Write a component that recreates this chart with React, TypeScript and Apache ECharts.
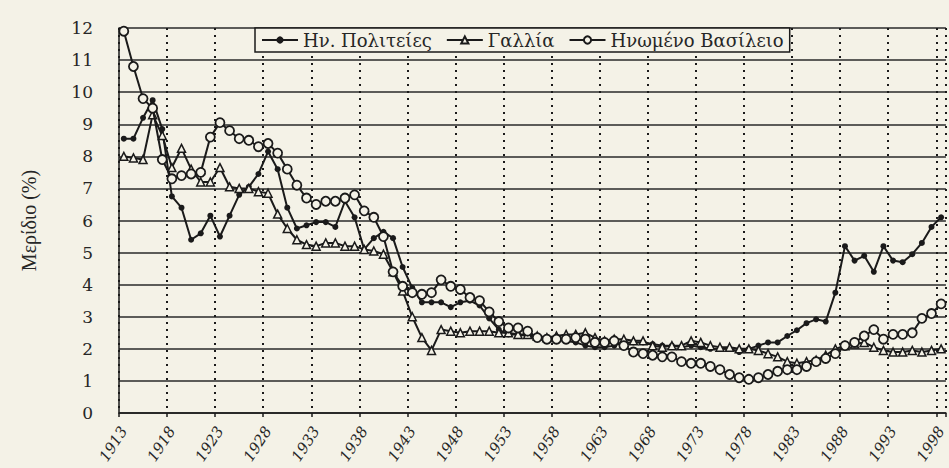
import React, { useEffect, useRef } from "react";
import * as echarts from "echarts";

// Categories: every year 1913..1998
const years: string[] = Array.from({ length: 86 }, (_, i) => String(1913 + i));

// Share (%) — United States (filled dots)
const usShare = [
  8.55, 8.55, 9.2, 9.75, 8.85, 6.75, 6.4, 5.4, 5.6, 6.15,
  5.5, 6.15, 6.8, 7.05, 7.45, 8.15, 7.6, 6.4, 5.75, 5.85,
  5.95, 5.95, 5.8, 6.6, 6.1, 5.1, 5.45, 5.65, 5.45, 4.55,
  3.9, 3.45, 3.45, 3.45, 3.3, 3.45, 3.5, 3.35, 2.95, 2.6,
  2.45, 2.45, 2.4, 2.35, 2.3, 2.3, 2.25, 2.2, 2.1, 2.05,
  2.05, 2.1, 2.2, 2.2, 2.2, 2.15, 2.1, 2.1, 2.05, 2.1,
  2.05, 2.0, 2.0, 2.0, 1.9, 2.0, 2.1, 2.2, 2.2, 2.4,
  2.58, 2.8, 2.92, 2.85, 3.75, 5.2, 4.75, 4.9, 4.4, 5.2,
  4.75, 4.7, 4.95, 5.3, 5.8, 6.1,
];

// Share (%) — France (triangles)
const franceShare = [
  8.0, 7.95, 7.9, 9.3, 8.65, 7.65, 8.25, 7.6, 7.2, 7.2,
  7.65, 7.05, 7.0, 7.0, 6.9, 6.85, 6.2, 5.75, 5.4, 5.25,
  5.2, 5.3, 5.3, 5.2, 5.2, 5.1, 5.05, 4.95, 4.4, 3.8,
  3.0, 2.35, 1.95, 2.6, 2.55, 2.5, 2.55, 2.55, 2.55, 2.5,
  2.5, 2.45, 2.45, 2.4, 2.35, 2.4, 2.45, 2.45, 2.5, 2.35,
  2.25, 2.3, 2.3, 2.25, 2.25, 2.1, 2.05, 2.1, 2.1, 2.25,
  2.2, 2.1, 2.05, 2.05, 2.0, 2.0, 1.95, 1.85, 1.75, 1.6,
  1.55, 1.6, 1.65, 1.8, 2.0, 2.1, 2.15, 2.2, 2.05, 1.95,
  1.9, 1.9, 1.95, 1.9, 1.95, 2.0,
];

// Share (%) — United Kingdom (open circles)
const ukShare = [
  11.9, 10.8, 9.8, 9.5, 7.9, 7.3, 7.4, 7.45, 7.5, 8.6,
  9.05, 8.8, 8.55, 8.5, 8.3, 8.4, 8.1, 7.6, 7.1, 6.7,
  6.5, 6.6, 6.6, 6.7, 6.8, 6.3, 6.1, 5.5, 4.4, 3.95,
  3.75, 3.7, 3.75, 4.15, 3.95, 3.85, 3.6, 3.5, 3.15, 2.85,
  2.65, 2.65, 2.55, 2.35, 2.3, 2.3, 2.3, 2.35, 2.3, 2.2,
  2.2, 2.25, 2.1, 1.9, 1.85, 1.8, 1.75, 1.75, 1.6, 1.55,
  1.55, 1.45, 1.35, 1.2, 1.1, 1.05, 1.1, 1.2, 1.3, 1.35,
  1.35, 1.45, 1.6, 1.7, 1.85, 2.1, 2.2, 2.4, 2.6, 2.3,
  2.45, 2.45, 2.5, 2.95, 3.1, 3.4,
];

const seriesNames = ["Ην. Πολιτείες", "Γαλλία", "Ηνωμένο Βασίλειο"];

const PAPER = "#f4f2e7";
const INK = "#1a1a1a";
const TEXT = "#262626";
const FONT = "DejaVu Serif";
const NAME_FONT = "Liberation Serif";

export default function App() {
  const ref = useRef<HTMLDivElement>(null);

  useEffect(() => {
    const chart = echarts.init(ref.current!, null, { renderer: "svg" });
    chart.setOption({
      animation: false,
      backgroundColor: PAPER,
      grid: { left: 119, right: -4, top: 28, bottom: 55, containLabel: false },
      legend: {
        data: seriesNames,
        left: 255,
        top: 28,
        orient: "horizontal",
        itemWidth: 36,
        itemHeight: 9,
        itemGap: 14,
        padding: [3, 6, 3, 6],
        backgroundColor: PAPER,
        borderColor: INK,
        borderWidth: 1.5,
        selectedMode: false,
        textStyle: { fontFamily: FONT, fontSize: 18, color: TEXT },
      },
      xAxis: {
        type: "category",
        data: years,
        boundaryGap: true,
        axisLine: { show: true, lineStyle: { color: INK, width: 1.5 } },
        axisTick: { show: true, interval: 4, length: 4, lineStyle: { color: INK, width: 1.5 } },
        axisLabel: {
          interval: 4,
          rotate: 57,
          margin: 15,
          fontFamily: FONT,
          fontStyle: "italic",
          fontSize: 15,
          color: TEXT,
        },
        splitLine: { show: true, interval: 4, lineStyle: { color: INK, width: 2, type: [2, 5] } },
      },
      yAxis: {
        type: "value",
        min: 0,
        max: 12,
        interval: 1,
        name: "Μερίδιο (%)",
        nameLocation: "middle",
        nameGap: 80,
        nameTextStyle: { fontFamily: NAME_FONT, fontSize: 20, color: TEXT },
        axisLine: { show: true, lineStyle: { color: INK, width: 1.5 } },
        axisTick: { show: false },
        axisLabel: { fontFamily: FONT, fontSize: 17, color: TEXT, margin: 26 },
        splitLine: { show: true, lineStyle: { color: "#2a2a2a", width: 1.5 } },
      },
      series: [
        {
          name: seriesNames[0],
          type: "line",
          data: usShare,
          symbol: "circle",
          symbolSize: 6,
          showAllSymbol: true,
          lineStyle: { color: INK, width: 2 },
          itemStyle: { color: INK, borderColor: INK, borderWidth: 0 },
          z: 3,
        },
        {
          name: seriesNames[1],
          type: "line",
          data: franceShare,
          symbol: "triangle",
          symbolSize: 8,
          showAllSymbol: true,
          lineStyle: { color: INK, width: 2 },
          itemStyle: { color: PAPER, borderColor: INK, borderWidth: 1.5 },
          z: 4,
        },
        {
          name: seriesNames[2],
          type: "line",
          data: ukShare,
          symbol: "circle",
          symbolSize: 9,
          showAllSymbol: true,
          lineStyle: { color: INK, width: 2 },
          itemStyle: { color: PAPER, borderColor: INK, borderWidth: 1.8 },
          z: 5,
        },
      ],
    });
    return () => chart.dispose();
  }, []);

  return (
    <div
      ref={ref}
      style={{ position: "fixed", left: 0, top: 0, width: 949, height: 468 }}
    />
  );
}
